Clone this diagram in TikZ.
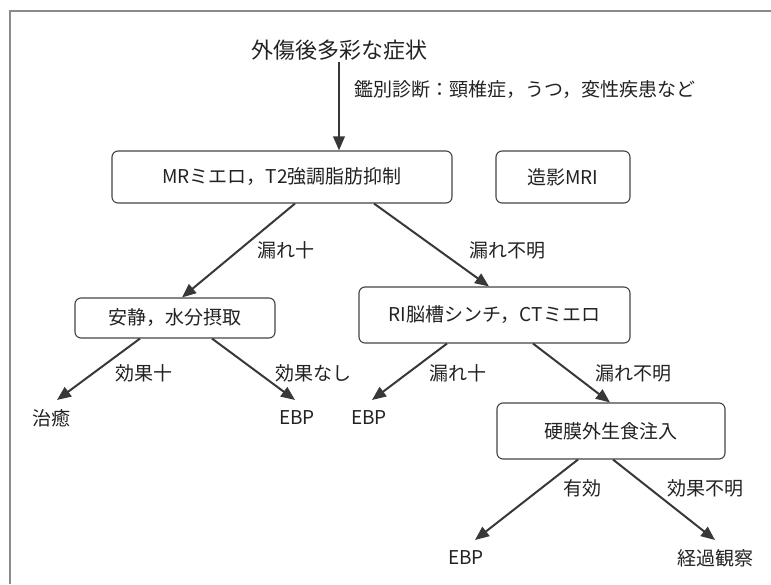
\documentclass[tikz,border=0pt]{standalone}
\usepackage{fontspec}
\setmainfont{Noto Sans CJK JP}
\usetikzlibrary{arrows.meta}
\definecolor{ink}{HTML}{222222}
\definecolor{framegray}{HTML}{8A8A8A}
\begin{document}
\begin{tikzpicture}[x=1pt,y=-1pt,
  every node/.style={text=ink, font=\fontsize{19}{22}\selectfont, inner sep=0pt},
  boxnode/.style={draw=ink!85, line width=1.1pt, rounded corners=6pt, anchor=center},
  arr/.style={draw=ink!90, line width=2pt, -{Triangle[length=14pt,width=11.5pt]}},
  lbl/.style={anchor=center},
  endtxt/.style={anchor=center}]
\useasboundingbox (0,0) rectangle (771,584);
% frame (open to right and bottom)
\draw[framegray, line width=1.6pt] (10,584) -- (10,11) -- (771,11);

% nodes
\node[font=\fontsize{22}{26}\selectfont, text height=16pt, text depth=4pt] (title) at (339,52) {外傷後多彩な症状};
\node[boxnode, minimum width=340pt, minimum height=52pt] (b1) at (282,177) {MRミエロ，T2強調脂肪抑制};
\node[boxnode, minimum width=134pt, minimum height=52pt] (b2) at (563,177) {造影MRI};
\node[boxnode, minimum width=200pt, minimum height=40pt] (b3) at (175,318) {安静，水分摂取};
\node[boxnode, minimum width=271pt, minimum height=56pt] (b4) at (494.5,315) {RI脳槽シンチ，CTミエロ};
\node[boxnode, minimum width=228pt, minimum height=56pt] (b5) at (611,431) {硬膜外生食注入};

\node[endtxt] (t1) at (51,418) {治癒};
\node[endtxt] (t2) at (297,418) {EBP};
\node[endtxt] (t3) at (369,418) {EBP};
\node[endtxt] (t4) at (466,558) {EBP};
\node[endtxt] (t5) at (715,558) {経過観察};

% edge labels
\node[anchor=west] (l0) at (354,90) {鑑別診断：頸椎症，うつ，変性疾患など};
\node[lbl] (l1) at (286,250) {漏れ十};
\node[lbl] (l2) at (507,250) {漏れ不明};
\node[lbl] (l3) at (144,373) {効果十};
\node[lbl] (l4) at (313,373) {効果なし};
\node[lbl] (l5) at (458,373) {漏れ十};
\node[lbl] (l6) at (633,373) {漏れ不明};
\node[lbl] (l7) at (582,488) {有効};
\node[lbl] (l8) at (705,488) {効果不明};

% connectors
\draw[arr] (title.south) -- (title.south |- b1.north);
\draw[arr] ([shift={(13,0)}]b1.south) -- ([shift={(7,0)}]b3.north);
\draw[arr] ([shift={(92,0)}]b1.south) -- ([shift={(-5.5,0)}]b4.north);
\draw[arr] ([shift={(-35,0)}]b3.south) -- ([shift={(6,-18)}]t1.center);
\draw[arr] ([shift={(37,0)}]b3.south) -- ([shift={(-2,-18)}]t2.center);
\draw[arr] ([shift={(-47.5,0)}]b4.south) -- ([shift={(3,-18)}]t3.center);
\draw[arr] ([shift={(38.5,0)}]b4.south) -- ([shift={(-1,0)}]b5.north);
\draw[arr] ([shift={(-33,0)}]b5.south) -- ([shift={(9,-18)}]t4.center);
\draw[arr] ([shift={(2,0)}]b5.south) -- ([shift={(0,-18)}]t5.center);
\end{tikzpicture}
\end{document}
